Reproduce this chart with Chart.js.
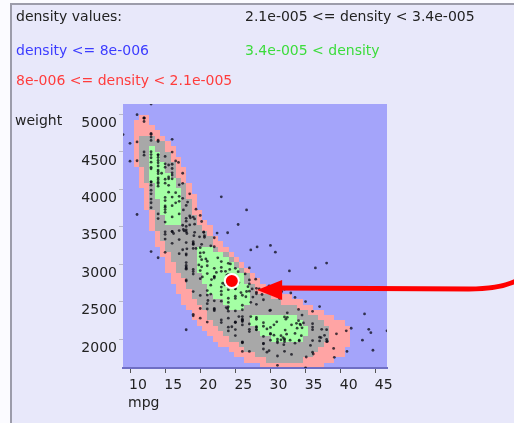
<!DOCTYPE html>
<html>
<head>
<meta charset="utf-8">
<script src="https://cdn.jsdelivr.net/npm/chart.js@4.4.0/dist/chart.umd.min.js"></script>
<style>
  html, body { margin: 0; padding: 0; background: #fbfbff; }
  #frame {
    position: absolute; left: 10px; top: 3px; width: 504px; height: 420px;
    background: #e8e8fa; border-left: 2px solid #9c9caa; border-top: 2px solid #9c9caa;
    box-sizing: border-box;
  }
  #plot { position: absolute; left: 0; top: 0; }
  .txt {
    position: absolute; font-family: "DejaVu Sans", sans-serif; font-size: 14px;
    line-height: 16px; color: #222; white-space: nowrap;
  }
</style>
</head>
<body>
<div id="frame"></div>
<canvas id="plot" width="514" height="423"></canvas>
<div class="txt" style="left:16px; top:8px;">density values:</div>
<div class="txt" style="left:245px; top:8px;">2.1e-005 &lt;= density &lt; 3.4e-005</div>
<div class="txt" style="left:16px; top:42px; color:#3c3cff;">density &lt;= 8e-006</div>
<div class="txt" style="left:245px; top:42px; color:#3cdc3c;">3.4e-005 &lt; density</div>
<div class="txt" style="left:16px; top:72px; color:#ff3c3c;">8e-006 &lt;= density &lt; 2.1e-005</div>
<div class="txt" style="left:15px; top:112px;">weight</div>
<div class="txt" style="left:128px; top:394px;">mpg</div>
<script>
// axis ranges and ticks
const mpgMin = 9, mpgMax = 46.6;
const weightMin = 1613, weightMax = 5140;
const mpgTicks = [10, 15, 20, 25, 30, 35, 40, 45];
const weightTicks = [2000, 2500, 3000, 3500, 4000, 4500, 5000];

// density raster: 50 x 50 cells, rows listed from the heaviest weight down,
// each entry is [first column, last column] of the band in that row
const gridCols = 50, gridRows = 50;
const lowBand = [
  null, null, [3,4], [2,4], [2,5], [2,6], [2,7], [2,8], [2,9], [2,9],
  [2,10], [2,10], [3,11], [3,11], [3,11], [3,12], [4,12], [4,13], [4,13], [4,13],
  [5,14], [5,14], [5,15], [5,16], [6,16], [6,17], [6,18], [7,19], [7,20], [8,21],
  [8,22], [8,23], [9,24], [9,25], [10,26], [10,27], [11,31], [11,33], [12,35], [13,37],
  [13,39], [14,41], [15,42], [16,42], [17,42], [18,42], [20,41], [21,41], [23,39], [26,37]
];
const midBand = [
  null, null, null, null, null, null, [3,5], [3,7], [3,7], [3,8],
  [3,8], [3,9], [4,9], [4,9], [4,10], [5,11], [5,11], [5,11], [5,12], [5,12],
  [6,12], [6,13], [6,13], [6,14], [7,15], [7,16], [8,16], [8,17], [9,19], [9,20],
  [10,21], [10,22], [11,23], [12,23], [12,24], [13,24], [13,27], [14,29], [15,32], [16,34],
  [16,36], [17,37], [18,38], [19,38], [20,38], [22,37], [23,36], [25,35], [27,33], null
];
const highBand = [
  null, null, null, null, null, null, null, null, [5,5], [5,6],
  [5,6], [5,7], [5,7], [5,8], [5,9], [6,9], [6,10], [6,10], [7,10], [7,10],
  [7,10], [8,10], [8,10], null, null, null, null, [14,16], [14,18], [14,19],
  [14,20], [14,21], [15,22], [15,22], [16,23], [16,23], [17,23], [19,23], [20,22], null,
  [24,32], [24,33], [25,34], [26,34], [28,33], null, null, null, null, null
];
const bandColors = ['#ffa4a4', '#a8a8a8', '#a4ffa4'];

// cars: [mpg, weight]
const cars = [
  [18,3504],[15,3693],[18,3436],[16,3433],[17,3449],[15,4341],[14,4354],[14,4312],[14,4425],[15,3850],
  [15,3563],[14,3609],[15,3761],[14,3086],[24,2372],[22,2833],[18,2774],[21,2587],[27,2130],[26,1835],
  [25,2672],[24,2430],[25,2375],[26,2234],[21,2648],[10,4615],[10,4376],[11,4382],[9,4732],[28,2264],
  [25,2228],[25,2046],[19,2634],[16,3439],[17,3329],[19,3302],[18,3288],[14,4209],[14,4464],[14,4154],
  [14,4096],[12,4955],[13,4746],[13,5140],[18,2962],[22,2408],[19,3282],[18,3139],[23,2220],[28,2123],
  [30,2074],[30,2065],[31,1773],[35,1613],[27,1834],[26,1955],[24,2278],[25,2126],[23,2254],[20,2408],
  [21,2226],[13,4274],[14,4385],[15,4135],[14,4129],[17,3672],[11,4633],[13,4502],[12,4456],[13,4422],
  [19,2330],[15,3892],[13,4098],[13,4294],[14,4077],[18,2933],[22,2511],[21,2979],[26,2189],[22,2395],
  [28,2288],[23,2506],[28,2164],[27,2100],[13,4100],[14,3672],[13,3988],[14,4042],[15,3777],[12,4952],
  [13,4464],[13,4363],[14,4237],[13,4735],[12,4951],[13,3821],[18,3121],[16,3278],[18,2945],[18,3021],
  [23,2904],[26,1950],[11,4997],[12,4906],[13,4654],[12,4499],[18,2789],[20,2279],[21,2401],[22,2379],
  [18,2124],[19,2310],[21,2472],[26,2265],[15,4082],[16,4278],[29,1867],[24,2158],[20,2582],[19,2868],
  [15,3399],[24,2660],[20,2807],[11,3664],[20,3102],[21,2875],[19,2901],[15,3336],[31,1950],[26,2451],
  [32,1836],[25,2542],[16,3781],[16,3632],[18,3613],[16,4141],[13,4699],[14,4457],[14,4638],[14,4257],
  [29,2219],[26,1963],[26,2300],[31,1649],[32,2003],[28,2125],[24,2108],[26,2246],[24,2489],[26,2391],
  [31,2000],[19,3264],[18,3459],[15,3432],[15,3158],[16,4668],[15,4440],[16,4498],[14,4657],[17,3907],
  [16,3897],[15,3730],[18,3785],[21,3039],[20,3221],[13,3169],[29,2171],[23,2639],[20,2914],[23,2592],
  [24,2702],[25,2223],[24,2545],[18,2984],[29,1937],[19,3211],[23,2694],[23,2957],[22,2945],[25,2671],
  [33,1795],[28,2464],[25,2220],[25,2572],[26,2255],[27,2202],[17.5,4215],[16,4190],[15.5,3962],[14.5,4215],
  [22,3233],[22,3353],[24,3012],[22.5,3085],[29,2035],[24.5,2164],[20,3651],[18,3574],[18.5,3645],[17.5,3193],
  [29.5,1825],[32,1990],[28,2155],[26.5,2565],[20,3150],[13,3940],[19,3270],[19,2930],[16.5,3820],[16.5,4380],
  [13,4055],[13,3870],[13,3755],[31.5,2045],[30,2155],[36,1825],[25.5,2300],[33.5,1945],[17.5,3880],[17,4060],
  [15.5,4140],[15,4295],[17.5,3520],[20.5,3425],[19,3630],[18.5,3525],[16,4220],[15.5,4165],[15.5,4325],[16,4335],
  [29,1940],[24.5,2740],[25.5,2755],[30.5,2051],[33.5,2075],[30,1985],[30.5,2190],[22,2815],[21.5,2600],[21.5,2720],
  [43.1,1985],[36.1,1800],[32.8,1985],[39.4,2070],[19.9,3365],[19.4,3735],[20.2,3570],[19.2,3535],[20.5,3155],[20.2,2965],
  [25.1,2720],[20.5,3430],[19.4,3210],[20.6,3380],[20.8,3070],[18.6,3620],[18.1,3410],[19.2,3425],[17.7,3445],[18.1,3205],
  [17.5,4080],[27.5,2560],[27.2,2300],[30.9,2230],[21.1,2515],[23.2,2745],[23.8,2855],[23.9,2405],[20.3,2830],[17,3140],
  [21.6,2795],[16.2,3410],[31.5,1990],[29.5,2135],[21.5,3245],[19.8,2990],[22.3,2890],[20.2,3265],[20.6,3360],[17,3840],
  [17.6,3725],[16.5,3955],[18.2,3830],[16.9,4360],[15.5,4054],[19.2,3605],[18.5,3940],[31.9,1925],[34.1,1975],[35.7,1915],
  [27.4,2670],[25.4,3530],[23,3900],[27.2,3190],[23.9,3420],[34.2,2200],[34.5,2150],[31.8,2020],[37.3,2130],[28.4,2670],
  [28.8,2595],[26.8,2700],[33.5,2556],[41.5,2144],[38.1,1968],[32.1,2120],[37.2,2019],[28,2678],[26.4,2870],[24.3,3003],
  [19.1,3381],[34.3,2188],[29.8,2711],[31.3,2542],[37,2434],[32.2,2265],[46.6,2110],[27.9,2800],[40.8,2110],[44.3,2085],
  [43.4,2335],[36.4,2950],[30,3250],[44.6,1850],[40.9,1835],[33.8,2145],[29.8,1845],[32.7,2910],[23.7,2420],[35,2500],
  [23.6,2905],[32.4,2290],[27.2,2490],[26.6,2635],[25.8,2620],[23.5,2725],[30,2385],[39.1,1755],[39,1875],[35.1,1760],
  [32.3,2065],[37,1975],[37.7,2050],[34.1,1985],[34.7,2215],[34.4,2045],[29.9,2380],[33,2190],[34.5,2320],[33.7,2210],
  [32.4,2350],[32.9,2615],[31.6,2635],[28.1,3230],[30.7,3160],[25.4,2900],[24.2,2930],[22.4,3415],[26.6,3725],[20.2,3060],
  [17.6,3465],[28,2605],[27,2640],[34,2395],[31,2575],[29,2525],[27,2735],[24,2865],[23,3035],[36,1980],
  [37,2025],[31,1970],[38,2125],[36,2125],[36,2160],[36,2205],[34,2245],[38,1965],[32,1965],[38,1995],
  [25,2945],[38,3015],[26,2585],[22,2835],[32,2665],[36,2370],[27,2950],[27,2790],[44,2130],[32,2295],
  [28,2625],[31,2720]
];

// highlighted car and the annotation arrow tip
const selectedCar = [24.5, 2775];
const arrowTip = [28.1, 2655];

const tickFont = { family: 'DejaVu Sans', size: 14 };

// paints the plot background and the density bands cell by cell
const densityMap = {
  id: 'densityMap',
  beforeDraw(chart) {
    const { ctx, chartArea, scales: { x, y } } = chart;
    ctx.save();
    ctx.fillStyle = '#a4a4fa';
    ctx.fillRect(chartArea.left, chartArea.top, chartArea.width, chartArea.height);
    const cellW = (mpgMax - mpgMin) / gridCols;
    const cellH = (weightMax - weightMin) / gridRows;
    [lowBand, midBand, highBand].forEach((rows, i) => {
      ctx.fillStyle = bandColors[i];
      rows.forEach((span, r) => {
        if (!span) return;
        const x0 = Math.round(x.getPixelForValue(mpgMin + span[0] * cellW));
        const x1 = Math.round(x.getPixelForValue(mpgMin + (span[1] + 1) * cellW));
        const y0 = Math.round(y.getPixelForValue(weightMax - r * cellH));
        const y1 = Math.round(y.getPixelForValue(weightMax - (r + 1) * cellH));
        ctx.fillRect(x0, y0, x1 - x0, y1 - y0);
      });
    });
    ctx.restore();
  }
};

// red arrow coming in from the right edge
const arrowNote = {
  id: 'arrowNote',
  afterDatasetsDraw(chart) {
    const { ctx, scales: { x, y } } = chart;
    const tx = x.getPixelForValue(arrowTip[0]);
    const ty = y.getPixelForValue(arrowTip[1]);
    const w = chart.width;
    ctx.save();
    ctx.strokeStyle = '#ff0000';
    ctx.fillStyle = '#ff0000';
    ctx.lineWidth = 5;
    ctx.lineCap = 'round';
    ctx.beginPath();
    ctx.moveTo(tx + 20, ty - 2);
    ctx.lineTo(w - 45, ty - 1);
    ctx.quadraticCurveTo(w - 15, ty - 1, w + 2, ty - 9);
    ctx.stroke();
    ctx.beginPath();
    ctx.moveTo(tx, ty);
    ctx.lineTo(tx + 25, ty - 10);
    ctx.lineTo(tx + 25, ty + 10);
    ctx.closePath();
    ctx.fill();
    ctx.restore();
  }
};

const ctx = document.getElementById('plot').getContext('2d');
new Chart(ctx, {
  type: 'scatter',
  data: {
    datasets: [{
      label: 'selected',
      data: [{ x: selectedCar[0], y: selectedCar[1] }],
      backgroundColor: '#ff0000',
      borderColor: '#ffffff',
      borderWidth: 2,
      pointRadius: 7
    }, {
      label: 'cars',
      data: cars.map(c => ({ x: c[0], y: c[1] })),
      backgroundColor: 'rgba(10, 10, 20, 0.75)',
      borderWidth: 0,
      pointRadius: 1.4
    }]
  },
  options: {
    responsive: false,
    animation: false,
    layout: { padding: { top: 104, right: 127, left: 0, bottom: 0 } },
    plugins: {
      legend: { display: false },
      tooltip: { enabled: false }
    },
    scales: {
      x: {
        type: 'linear',
        min: mpgMin,
        max: mpgMax,
        afterFit: function(scale) { scale.height = 55; },
        afterBuildTicks: function(scale) {
          scale.ticks = mpgTicks.map(v => ({ value: v }));
        },
        ticks: {
          autoSkip: false,
          maxRotation: 0,
          labelOffset: 8,
          padding: 4,
          color: '#222',
          font: tickFont,
          callback: v => String(v)
        },
        grid: { drawOnChartArea: false, tickLength: 5, tickColor: '#555' },
        border: { display: true, color: '#6e6ec4', width: 2 }
      },
      y: {
        type: 'linear',
        min: weightMin,
        max: weightMax,
        afterFit: function(scale) { scale.width = 123; },
        afterBuildTicks: function(scale) {
          scale.ticks = weightTicks.map(v => ({ value: v }));
        },
        ticks: {
          autoSkip: false,
          labelOffset: 9,
          padding: 2,
          color: '#222',
          font: tickFont,
          callback: v => String(v)
        },
        grid: { drawOnChartArea: false, tickLength: 4, tickColor: '#b8b8c8' },
        border: { display: false }
      }
    }
  },
  plugins: [densityMap, arrowNote]
});
</script>
</body>
</html>
